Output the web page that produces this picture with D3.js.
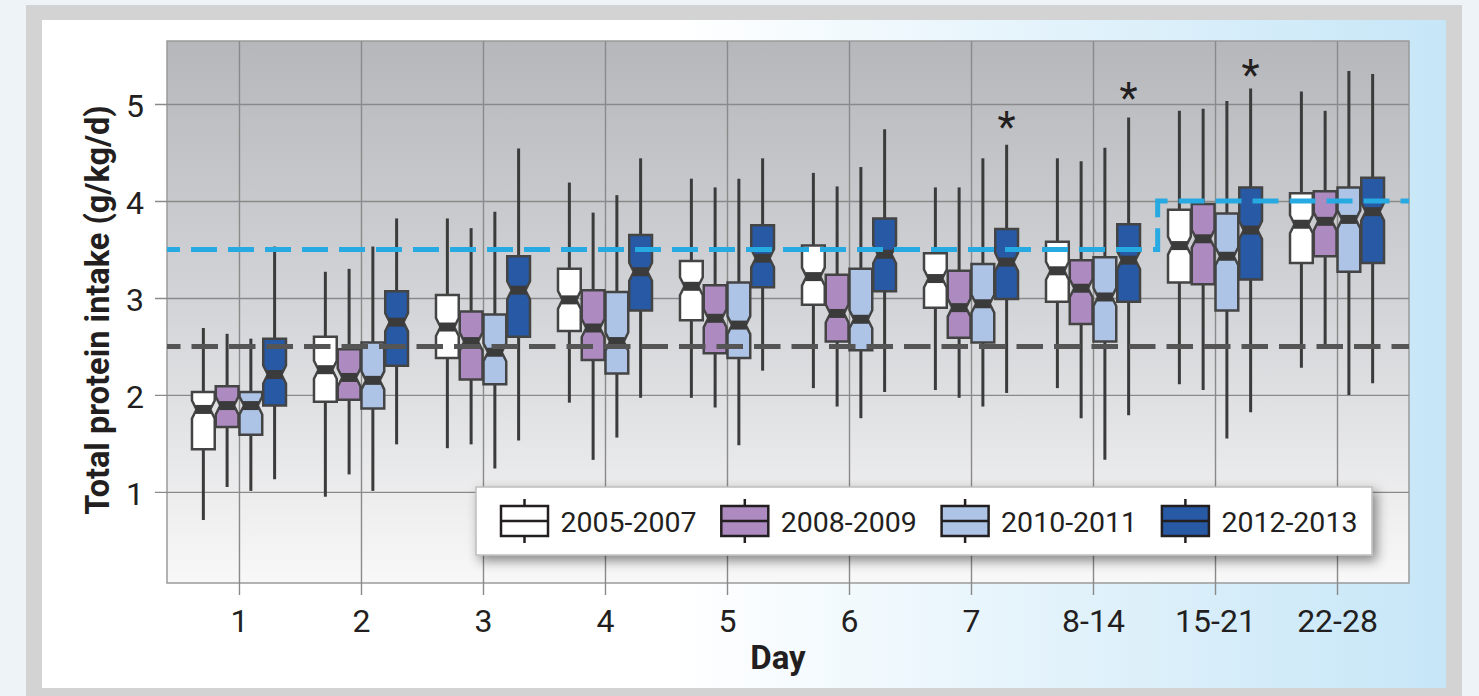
<!DOCTYPE html>
<html>
<head>
<meta charset="utf-8">
<script src="https://cdn.jsdelivr.net/npm/d3@7"></script>
<style>
  body { margin: 0; background: #edf3f7; }
  svg { display: block; font-family: Roboto, 'Noto Sans', sans-serif; }
</style>
</head>
<body>
<div id="chart"></div>
<script>
// categories
var days = ['1', '2', '3', '4', '5', '6', '7', '8-14', '15-21', '22-28'];
var periods = ['2005-2007', '2008-2009', '2010-2011', '2012-2013'];
var y_ticks = [1, 2, 3, 4, 5];

// box stats, one row per day, one value per period
var whisker_low = [
  [0.71, 1.05, 1.01, 1.13],
  [0.95, 1.18, 1.01, 1.49],
  [1.45, 1.49, 1.24, 1.53],
  [1.92, 1.33, 1.56, 1.97],
  [1.97, 1.87, 1.48, 2.25],
  [2.07, 1.88, 1.76, 2.03],
  [2.05, 1.97, 1.88, 2.02],
  [2.07, 1.76, 1.33, 1.79],
  [2.11, 2.05, 1.55, 1.82],
  [2.28, 2.49, 2.00, 2.12]
];
var q1 = [
  [1.44, 1.67, 1.59, 1.89],
  [1.93, 1.95, 1.86, 2.30],
  [2.38, 2.16, 2.11, 2.60],
  [2.66, 2.36, 2.22, 2.87],
  [2.77, 2.43, 2.38, 3.11],
  [2.93, 2.55, 2.46, 3.07],
  [2.90, 2.59, 2.54, 2.99],
  [2.96, 2.73, 2.55, 2.96],
  [3.16, 3.14, 2.87, 3.19],
  [3.36, 3.43, 3.27, 3.36]
];
var medians = [
  [1.85, 1.89, 1.89, 2.21],
  [2.26, 2.18, 2.15, 2.75],
  [2.70, 2.55, 2.44, 3.08],
  [2.98, 2.69, 2.55, 3.27],
  [3.12, 2.79, 2.72, 3.41],
  [3.22, 2.84, 2.78, 3.45],
  [3.20, 2.90, 2.94, 3.37],
  [3.28, 3.10, 3.01, 3.39],
  [3.54, 3.61, 3.43, 3.70],
  [3.76, 3.79, 3.81, 3.89]
];
var q3 = [
  [2.03, 2.09, 2.03, 2.58],
  [2.60, 2.47, 2.54, 3.07],
  [3.03, 2.86, 2.83, 3.43],
  [3.30, 3.08, 3.06, 3.65],
  [3.38, 3.13, 3.16, 3.75],
  [3.54, 3.24, 3.30, 3.82],
  [3.46, 3.28, 3.35, 3.71],
  [3.58, 3.39, 3.42, 3.76],
  [3.91, 3.97, 3.87, 4.14],
  [4.08, 4.10, 4.14, 4.24]
];
var whisker_high = [
  [2.69, 2.63, 2.58, 3.53],
  [3.27, 3.30, 3.53, 3.82],
  [3.82, 3.72, 3.89, 4.54],
  [4.19, 3.88, 4.06, 4.44],
  [4.23, 4.14, 4.23, 4.44],
  [4.29, 4.15, 4.35, 4.74],
  [4.14, 4.14, 4.44, 4.58],
  [4.44, 4.41, 4.55, 4.86],
  [4.93, 4.95, 5.03, 5.16],
  [5.13, 4.93, 5.34, 5.31]
];

// reference lines and significance marks
var min_target = 2.5;
var max_target = [3.5, 3.5, 3.5, 3.5, 3.5, 3.5, 3.5, 3.5, 4.0, 4.0];
var star_days = ['7', '8-14', '15-21'];
var star_values = [4.87, 5.17, 5.40];

var colors = ['#ffffff', '#ad8bc0', '#adc4e6', '#2759a5'];

var chart_width = 1479;
var chart_height = 696;
var plot = { left: 167, top: 41, right: 1409, bottom: 583 };

var svg = d3.select('#chart')
  .append('svg')
  .attr('width', chart_width)
  .attr('height', chart_height);

var defs = svg.append('defs');

var bg_grad = defs.append('linearGradient').attr('id', 'plot_bg')
  .attr('x1', 0).attr('y1', 0).attr('x2', 0).attr('y2', 1);
bg_grad.append('stop').attr('offset', '0%').attr('stop-color', '#b6b7bb');
bg_grad.append('stop').attr('offset', '50%').attr('stop-color', '#d4d5d8');
bg_grad.append('stop').attr('offset', '100%').attr('stop-color', '#f8f8f8');

var panel_grad = defs.append('linearGradient').attr('id', 'panel_bg')
  .attr('x1', 0).attr('y1', 0).attr('x2', 1).attr('y2', 0);
panel_grad.append('stop').attr('offset', '0%').attr('stop-color', '#ffffff');
panel_grad.append('stop').attr('offset', '45%').attr('stop-color', '#ffffff');
panel_grad.append('stop').attr('offset', '100%').attr('stop-color', '#c6e6f7');

var shadow = defs.append('filter').attr('id', 'shadow')
  .attr('x', '-10%').attr('y', '-30%').attr('width', '120%').attr('height', '170%');
shadow.append('feDropShadow')
  .attr('dx', 4).attr('dy', 5).attr('stdDeviation', 6)
  .attr('flood-color', '#000').attr('flood-opacity', 0.45);

// frame
svg.append('rect')
  .attr('x', 26).attr('y', 5)
  .attr('width', 1436).attr('height', 700)
  .attr('fill', '#d3d3d3');
svg.append('rect')
  .attr('x', 42).attr('y', 20)
  .attr('width', 1404).attr('height', 668)
  .attr('fill', 'url(#panel_bg)');

// plot background
svg.append('rect')
  .attr('x', plot.left).attr('y', plot.top)
  .attr('width', plot.right - plot.left).attr('height', plot.bottom - plot.top)
  .attr('fill', 'url(#plot_bg)')
  .attr('stroke', '#9a9a9a')
  .attr('stroke-width', 1.5);

// create scales
var x_scale = d3.scalePoint()
  .domain(days)
  .range([plot.left, plot.right])
  .padding(0.59);

var p_scale = d3.scaleBand()
  .domain(periods)
  .range([-47.5, 47.5]);

var y_scale = d3.scaleLinear()
  .domain([0.06, 5.65])
  .range([plot.bottom, plot.top]);

// create axis
var x_axis = d3.axisBottom(x_scale).tickSizeOuter(0);
var y_axis = d3.axisLeft(y_scale)
  .tickValues(y_ticks)
  .tickFormat(d3.format('d'))
  .tickSizeOuter(0);

var gx = svg.append('g')
  .attr('class', 'axis')
  .attr('id', 'x_axis')
  .attr('transform', 'translate(0,' + plot.bottom + ')')
  .call(x_axis);
gx.select('.domain').remove();
gx.selectAll('.tick line')
  .attr('y1', 12)
  .attr('y2', plot.top - plot.bottom)
  .attr('stroke', '#8a8a8a')
  .attr('stroke-width', 1.4);
gx.selectAll('.tick text')
  .attr('y', 49)
  .attr('dy', 0)
  .attr('font-size', 32)
  .attr('font-family', 'Roboto')
  .attr('fill', '#231f20');

var gy = svg.append('g')
  .attr('class', 'axis')
  .attr('id', 'y_axis')
  .attr('transform', 'translate(' + plot.left + ',0)')
  .call(y_axis);
gy.select('.domain').remove();
gy.selectAll('.tick line')
  .attr('x1', -12)
  .attr('x2', plot.right - plot.left)
  .attr('stroke', '#8a8a8a')
  .attr('stroke-width', 1.4);
gy.selectAll('.tick text')
  .attr('x', -23)
  .attr('dy', '0.4em')
  .attr('font-size', 32)
  .attr('font-family', 'Roboto')
  .attr('fill', '#231f20');

// axis titles
svg.append('text')
  .attr('transform', 'translate(109,310) rotate(-90)')
  .attr('text-anchor', 'middle')
  .attr('font-size', 32.5)
  .attr('font-weight', 'bold')
  .attr('fill', '#231f20')
  .text('Total protein intake (g/kg/d)');

svg.append('text')
  .attr('x', 778)
  .attr('y', 669)
  .attr('text-anchor', 'middle')
  .attr('font-size', 33)
  .attr('font-weight', 'bold')
  .attr('fill', '#231f20')
  .text('Day');

// flatten box data
var boxes = [];
days.forEach(function(day, i) {
  periods.forEach(function(p, j) {
    boxes.push({
      day: day, period: p, color: colors[j],
      low: whisker_low[i][j], q1: q1[i][j], med: medians[i][j],
      q3: q3[i][j], high: whisker_high[i][j]
    });
  });
});

var box_w = p_scale.bandwidth() - 1;
var notch_d = 4.5;
var notch_h = 9;

function cx(d) {
  return x_scale(d.day) + p_scale(d.period) + p_scale.bandwidth() / 2;
}

function box_path(d) {
  var l = cx(d) - box_w / 2, r = cx(d) + box_w / 2;
  var t = y_scale(d.q3), b = y_scale(d.q1), m = y_scale(d.med);
  var nt = Math.min(notch_h, m - t - 1), nb = Math.min(notch_h, b - m - 1);
  return 'M' + l + ',' + t + 'L' + r + ',' + t +
    'L' + r + ',' + (m - nt) + 'L' + (r - notch_d) + ',' + m + 'L' + r + ',' + (m + nb) +
    'L' + r + ',' + b + 'L' + l + ',' + b +
    'L' + l + ',' + (m + nb) + 'L' + (l + notch_d) + ',' + m + 'L' + l + ',' + (m - nt) + 'Z';
}

var box_g = svg.append('g');

// whiskers
box_g.selectAll('line.whisker')
  .data(boxes)
  .enter()
  .append('line')
  .attr('class', 'whisker')
  .attr('x1', cx).attr('x2', cx)
  .attr('y1', (d) => y_scale(d.low))
  .attr('y2', (d) => y_scale(d.high))
  .attr('stroke', '#3b3b3b')
  .attr('stroke-width', 3);

// boxes
box_g.selectAll('path.box')
  .data(boxes)
  .enter()
  .append('path')
  .attr('class', 'box')
  .attr('d', box_path)
  .attr('fill', (d) => d.color)
  .attr('stroke', '#444')
  .attr('stroke-width', 2.5)
  .attr('stroke-linejoin', 'miter');

// medians
box_g.selectAll('rect.median')
  .data(boxes)
  .enter()
  .append('rect')
  .attr('class', 'median')
  .attr('x', (d) => cx(d) - box_w / 2 + 3.5)
  .attr('y', (d) => y_scale(d.med) - 4.5)
  .attr('width', box_w - 7)
  .attr('height', 9)
  .attr('fill', '#3b3b3b');

// reference lines
svg.append('line')
  .attr('x1', plot.left).attr('x2', plot.right)
  .attr('y1', y_scale(min_target)).attr('y2', y_scale(min_target))
  .attr('stroke', '#555')
  .attr('stroke-width', 5)
  .attr('stroke-dasharray', '26.5,11')
  .attr('stroke-dashoffset', 13);

var step = x_scale.step();
var target_pts = [[plot.left, max_target[0]]];
for (var i = 1; i < days.length; i++) {
  if (max_target[i] !== max_target[i - 1]) {
    var xs = x_scale(days[i]) - step * 0.47;
    target_pts.push([xs, max_target[i - 1]]);
    target_pts.push([xs, max_target[i]]);
  }
}
target_pts.push([plot.right, max_target[days.length - 1]]);

svg.append('path')
  .attr('d', d3.line().x((d) => d[0]).y((d) => y_scale(d[1]))(target_pts))
  .attr('fill', 'none')
  .attr('stroke', '#27a9e1')
  .attr('stroke-width', 5)
  .attr('stroke-dasharray', '26,11')
  .attr('stroke-dashoffset', 13);

// significance stars
svg.selectAll('text.star')
  .data(star_days)
  .enter()
  .append('text')
  .attr('class', 'star')
  .attr('x', (d) => x_scale(d) + p_scale(periods[3]) + p_scale.bandwidth() / 2)
  .attr('y', (d, i) => y_scale(star_values[i]) + 24)
  .attr('text-anchor', 'middle')
  .attr('font-size', 42)
  .attr('fill', '#231f20')
  .text('*');

// legend
var legend = svg.append('g').attr('transform', 'translate(476,487)');
legend.append('rect')
  .attr('width', 896).attr('height', 68)
  .attr('fill', '#fff')
  .attr('stroke', '#bdbdbd')
  .attr('stroke-width', 1.5)
  .attr('filter', 'url(#shadow)');

var items = legend.selectAll('g.item')
  .data(periods)
  .enter()
  .append('g')
  .attr('class', 'item')
  .attr('transform', (d, i) => 'translate(' + (25 + i * 220.3) + ',19)');

items.append('line')
  .attr('x1', 23.5).attr('x2', 23.5)
  .attr('y1', -7).attr('y2', 37)
  .attr('stroke', '#231f20').attr('stroke-width', 2.5);
items.append('rect')
  .attr('width', 47).attr('height', 30)
  .attr('fill', (d, i) => colors[i])
  .attr('stroke', '#231f20').attr('stroke-width', 2.5);
items.append('line')
  .attr('x1', 0).attr('x2', 47)
  .attr('y1', 15).attr('y2', 15)
  .attr('stroke', '#231f20').attr('stroke-width', 2.5);
items.append('text')
  .attr('x', 59.5)
  .attr('y', 25.5)
  .attr('font-size', 28.5)
  .attr('fill', '#231f20')
  .text((d) => d);
</script>
</body>
</html>
